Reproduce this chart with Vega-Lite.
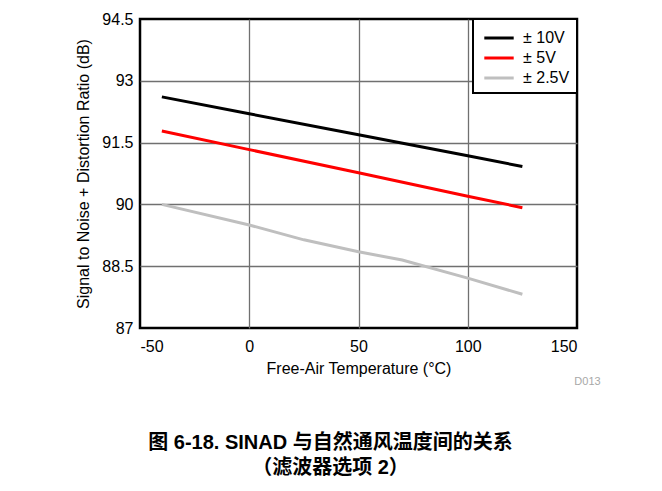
{
  "$schema": "https://vega.github.io/schema/vega-lite/v6.json",
  "autosize": {"type": "none"},
  "width": 437,
  "height": 309,
  "padding": {"left": 140, "top": 19, "right": 85, "bottom": 163},
  "background": "white",
  "config": {
    "font": "Liberation Sans",
    "view": {"stroke": "black", "strokeWidth": 2.5},
    "legend": {"strokeWidth": 2},
    "axis": {
      "labelFont": "Liberation Sans",
      "labelFontSize": 16,
      "labelColor": "black",
      "titleFont": "Liberation Sans",
      "titleFontSize": 16,
      "titleFontWeight": "normal",
      "titleColor": "black",
      "domain": false,
      "ticks": false,
      "gridColor": "#707070",
      "gridWidth": 1.3
    }
  },
  "title": {
    "text": ["图 6-18. SINAD 与自然通风温度间的关系", "（滤波器选项 2）"],
    "orient": "bottom",
    "anchor": "middle",
    "frame": "group",
    "dx": -28,
    "offset": 46,
    "font": "Liberation Sans, Noto Sans CJK SC",
    "fontSize": 20,
    "fontWeight": "bold",
    "lineHeight": 25,
    "color": "black"
  },
  "layer": [
    {
      "data": {
        "values": [
          {"t": -40, "sinad": 92.61, "supply": "± 10V"},
          {"t": 0, "sinad": 92.2, "supply": "± 10V"},
          {"t": 50, "sinad": 91.69, "supply": "± 10V"},
          {"t": 100, "sinad": 91.18, "supply": "± 10V"},
          {"t": 125, "sinad": 90.92, "supply": "± 10V"},
          {"t": -40, "sinad": 91.78, "supply": "± 5V"},
          {"t": 0, "sinad": 91.33, "supply": "± 5V"},
          {"t": 50, "sinad": 90.77, "supply": "± 5V"},
          {"t": 100, "sinad": 90.2, "supply": "± 5V"},
          {"t": 125, "sinad": 89.92, "supply": "± 5V"},
          {"t": -40, "sinad": 90.0, "supply": "± 2.5V"},
          {"t": 0, "sinad": 89.5, "supply": "± 2.5V"},
          {"t": 25, "sinad": 89.14, "supply": "± 2.5V"},
          {"t": 50, "sinad": 88.85, "supply": "± 2.5V"},
          {"t": 70, "sinad": 88.65, "supply": "± 2.5V"},
          {"t": 100, "sinad": 88.21, "supply": "± 2.5V"},
          {"t": 125, "sinad": 87.82, "supply": "± 2.5V"}
        ]
      },
      "mark": {"type": "line", "strokeWidth": 3},
      "encoding": {
        "x": {
          "field": "t",
          "type": "quantitative",
          "scale": {"domain": [-50, 150], "nice": false, "zero": false},
          "axis": {
            "title": "Free-Air Temperature (°C)",
            "values": [-50, 0, 50, 100, 150],
            "labelExpr": "'' + datum.value",
            "labelPadding": 10,
            "titlePadding": 6,
            "gridOpacity": {"condition": {"test": "datum.value == -50 || datum.value == 150", "value": 0}, "value": 1}
          }
        },
        "y": {
          "field": "sinad",
          "type": "quantitative",
          "scale": {"domain": [87, 94.5], "nice": false, "zero": false},
          "axis": {
            "title": "Signal to Noise + Distortion Ratio (dB)",
            "values": [87, 88.5, 90, 91.5, 93, 94.5],
            "labelExpr": "'' + datum.value",
            "labelPadding": 7,
            "titlePadding": 10,
            "gridOpacity": {"condition": {"test": "datum.value == 87 || datum.value == 94.5", "value": 0}, "value": 1}
          }
        },
        "color": {
          "field": "supply",
          "type": "nominal",
          "scale": {"domain": ["± 10V", "± 5V", "± 2.5V"], "range": ["#000000", "#ff0000", "#bfbfbf"]},
          "legend": {
            "title": null,
            "orient": "top-right",
            "offset": 0,
            "strokeColor": "black",
            "fillColor": "white",
            "padding": 7,
            "rowPadding": -6.6,
            "symbolType": "M-1.4,0L1.4,0",
            "symbolSize": 441,
            "symbolStrokeWidth": 3,
            "symbolOffset": 7,
            "labelOffset": 12,
            "labelFont": "Liberation Sans",
            "labelFontSize": 16,
            "labelColor": "black"
          }
        }
      }
    },
    {
      "data": {"values": [{"label": "D013"}]},
      "mark": {"type": "text", "dx": 10.5, "dy": 53.5, "fontSize": 11, "color": "#a8a8a8", "baseline": "middle", "align": "center"},
      "encoding": {
        "x": {"datum": 150},
        "y": {"datum": 87},
        "text": {"field": "label"}
      }
    }
  ]
}
